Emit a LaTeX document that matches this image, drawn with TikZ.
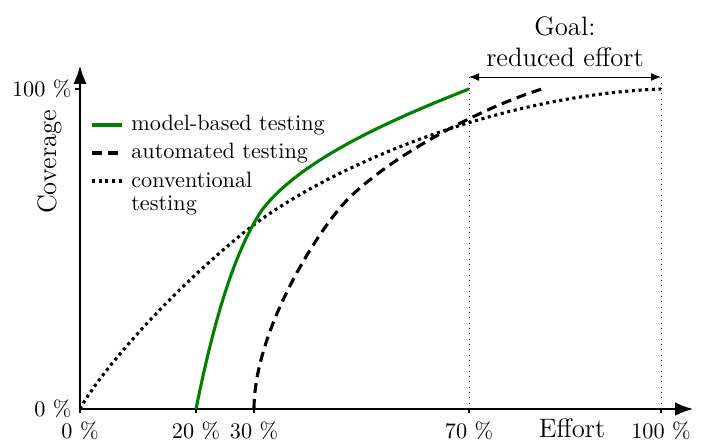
\documentclass[tikz,border=0pt]{standalone}
\usepackage{amsmath}
\usepackage{tikz}
\usetikzlibrary{arrows.meta, positioning}

\begin{document}
\begin{tikzpicture}[
  x=0.45pt, y=-0.45pt,
  axis/.style={-{Latex[length=8pt, width=6pt]}, semithick},
  tick/.style={semithick},
  ticklabel/.style={font=\normalsize, inner sep=1pt},
  guide/.style={dotted, thin},
  mbt/.style={line width=1.4pt, green!50!black},
  auto/.style={line width=1.4pt, dash pattern=on 4.5pt off 2.7pt},
  conv/.style={line width=1.4pt, dash pattern=on 1.4pt off 1.6pt},
  legend/.style={font=\normalsize, anchor=west, inner sep=1pt, align=left}
]
\useasboundingbox (0,0) rectangle (702,441);

% axes
\coordinate (O) at (80,409);
\coordinate (xend) at (693,409);
\coordinate (yend) at (80,66);
\draw[axis] (O) -- (xend);
\draw[axis] (O) -- (yend);

% ticks and their labels
\coordinate (y100) at (80,89);
\draw[tick] (y100) -- ++(-5,0);
\node[ticklabel, anchor=east] (ly100) at (74,89) {100 \%};
\node[ticklabel, anchor=east] (ly0) at (74,409) {0 \%};
\foreach \px/\lab in {80/0, 196/20, 254/30, 469/70, 661/100} {
  \draw[tick] (\px,409) -- ++(0,4);
  \node[ticklabel, anchor=north] (lx\lab) at (\px,419) {\lab\ \%};
}
\node[font=\large, anchor=base] (effort) at (572,437) {Effort};
\node[font=\large, rotate=90] (coverage) at (50,162) {Coverage};

% goal: reduced effort
\coordinate (g70) at (469,77);
\coordinate (g100) at (661,77);
\draw[guide] (469,409) -- (g70);
\draw[guide] (661,409) -- (g100);
\draw[{Latex[length=4.5pt, width=3.5pt]}-{Latex[length=4.5pt, width=3.5pt]}] (g70) -- (g100);
\node[font=\large, align=center, above=1pt of g70, xshift=43.2pt, anchor=south] (goal) {Goal:\\ reduced effort};

% curves
\draw[conv] (80,409) .. controls (95,380) and (160,300) .. (247,230)
  .. controls (330,165) and (500,95) .. (661,89);
\draw[auto] (254,409) .. controls (254,330) and (320,226) .. (350,197)
  .. controls (395,154) and (480,108) .. (545,88);
\draw[mbt] (196,409) .. controls (212,330) and (232,255) .. (262,210)
  .. controls (300,160) and (390,120) .. (469,89);

% legend
\draw[mbt] (92,125) -- (122,125) coordinate (l1);
\node[legend, right=3pt of l1] (tmbt) {model-based testing};
\draw[auto] (92,153) -- (122,153) coordinate (l2);
\node[legend, right=3pt of l2] (tauto) {automated testing};
\draw[conv] (92,181) -- (122,181) coordinate (l3);
\node[legend, right=3pt of l3, anchor=north west, yshift=5pt] (tconv) {conventional\\[-2pt] testing};
\end{tikzpicture}
\end{document}
